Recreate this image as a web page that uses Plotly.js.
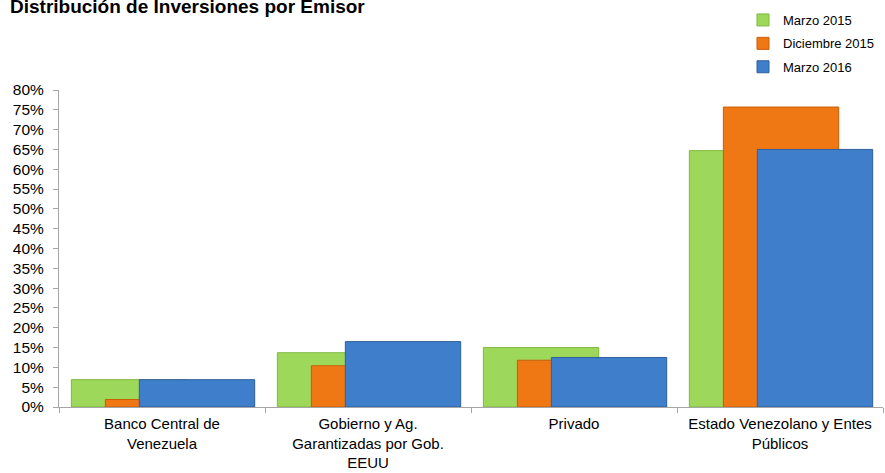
<!DOCTYPE html>
<html>
<head>
<meta charset="utf-8">
<script src="https://cdn.plot.ly/plotly-3.0.1.min.js"></script>
<style>html,body{margin:0;padding:0;background:#fff;}#chart{width:885px;height:473px;}</style>
</head>
<body>
<div id="chart"></div>
<script>
var categories = [
  "Banco Central de<br>Venezuela",
  "Gobierno y Ag.<br>Garantizadas por Gob.<br>EEUU",
  "Privado",
  "Estado Venezolano y Entes<br>Públicos"
];
var seriesNames = ["Marzo 2015", "Diciembre 2015", "Marzo 2016"];
var marzo2015 = [0.069, 0.137, 0.150, 0.647];
var diciembre2015 = [0.019, 0.104, 0.118, 0.757];
var marzo2016 = [0.069, 0.165, 0.125, 0.650];
var yTickVals = [0, 0.05, 0.10, 0.15, 0.20, 0.25, 0.30, 0.35, 0.40, 0.45, 0.50, 0.55, 0.60, 0.65, 0.70, 0.75, 0.80];
var yTickText = ["0%","5%","10%","15%","20%","25%","30%","35%","40%","45%","50%","55%","60%","65%","70%","75%","80%"];

var fills = ["#9ed85a", "#f07814", "#3e7ecb"];
var edges = ["#7fb83e", "#c85e08", "#2f5f9c"];
var offsets = [-0.44, -0.275, -0.11];
var seriesValues = [marzo2015, diciembre2015, marzo2016];

var traces = seriesValues.map(function (vals, i) {
  return {
    type: "bar",
    name: seriesNames[i],
    x: categories,
    y: vals,
    offset: offsets[i],
    width: 0.56,
    legendgroup: "g" + i,
    marker: { color: fills[i], line: { color: edges[i], width: 1 } },
    hoverinfo: "name+y"
  };
});

var layout = {
  width: 885,
  height: 473,
  paper_bgcolor: "#ffffff",
  plot_bgcolor: "#ffffff",
  font: { family: "Liberation Sans, Arial, sans-serif", color: "#000000", size: 15 },
  margin: { l: 59, r: 2, t: 90, b: 66, autoexpand: false },
  barmode: "overlay",
  title: {
    text: "<b>Distribución de Inversiones por Emisor</b>",
    font: { family: "Liberation Sans, Arial, sans-serif", size: 19, color: "#000000" },
    xref: "container", x: 10 / 885, xanchor: "left",
    yref: "container", y: 1 - 6 / 473, yanchor: "middle"
  },
  xaxis: {
    type: "category",
    automargin: false,
    showgrid: false,
    showline: true,
    linecolor: "#a6a6a6",
    linewidth: 1,
    ticks: "outside",
    tickson: "boundaries",
    ticklen: 5,
    tickcolor: "#a6a6a6",
    tickangle: 0,
    ticklabelstandoff: 3,
    tickfont: { size: 15, color: "#000000" },
    zeroline: false,
    fixedrange: true
  },
  yaxis: {
    automargin: false,
    range: [0, 0.8],
    tickvals: yTickVals,
    ticktext: yTickText,
    showgrid: false,
    showline: true,
    linecolor: "#a6a6a6",
    linewidth: 1,
    ticks: "outside",
    ticklen: 5,
    tickcolor: "#a6a6a6",
    tickfont: { size: 15.5, color: "#000000" },
    ticklabelstandoff: 6,
    zeroline: false,
    fixedrange: true
  },
  showlegend: true,
  legend: {
    xref: "container", yref: "container",
    x: 743 / 885, y: 1 - 5 / 473,
    xanchor: "left", yanchor: "top",
    orientation: "v",
    traceorder: "grouped",
    tracegroupgap: 3.5,
    font: { size: 13, color: "#000000" },
    bgcolor: "rgba(0,0,0,0)",
    itemwidth: 30
  }
};

Plotly.newPlot("chart", traces, layout, { displayModeBar: false, staticPlot: true });
</script>
</body>
</html>
